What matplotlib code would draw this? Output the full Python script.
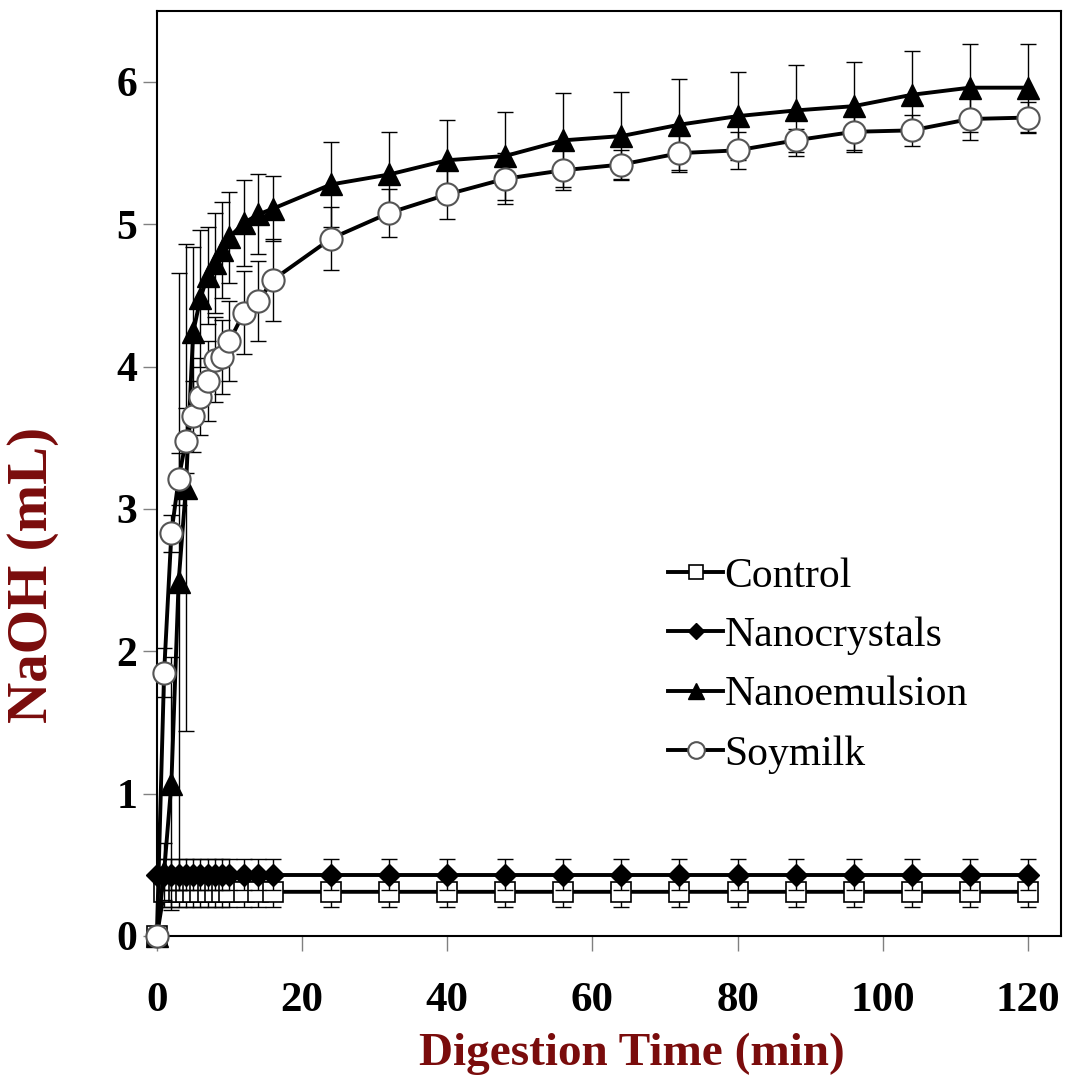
import matplotlib
matplotlib.use("Agg")
import matplotlib.pyplot as plt

plt.rcParams["font.family"] = ["Liberation Serif", "DejaVu Serif"]

# digestion time (min)
time = [0, 1, 2, 3, 4, 5, 6, 7, 8, 9, 10, 12, 14, 16,
        24, 32, 40, 48, 56, 64, 72, 80, 88, 96, 104, 112, 120]

control = [0.00, 0.31, 0.31, 0.31, 0.31, 0.31, 0.31, 0.31, 0.31, 0.31, 0.31, 0.31, 0.31, 0.31,
           0.31, 0.31, 0.31, 0.31, 0.31, 0.31, 0.31, 0.31, 0.31, 0.31, 0.31, 0.31, 0.31]
control_err = [0.00, 0.11, 0.11, 0.11, 0.11, 0.11, 0.11, 0.11, 0.11, 0.11, 0.11, 0.11, 0.11, 0.11,
               0.11, 0.11, 0.11, 0.11, 0.11, 0.11, 0.11, 0.11, 0.11, 0.11, 0.11, 0.11, 0.11]

nanocrystals = [0.43, 0.43, 0.43, 0.43, 0.43, 0.43, 0.43, 0.43, 0.43, 0.43, 0.43, 0.43, 0.43, 0.43,
                0.43, 0.43, 0.43, 0.43, 0.43, 0.43, 0.43, 0.43, 0.43, 0.43, 0.43, 0.43, 0.43]
nanocrystals_err = [0.11, 0.11, 0.11, 0.11, 0.11, 0.11, 0.11, 0.11, 0.11, 0.11, 0.11, 0.11, 0.11, 0.11,
                    0.11, 0.11, 0.11, 0.11, 0.11, 0.11, 0.11, 0.11, 0.11, 0.11, 0.11, 0.11, 0.11]

nanoemulsion = [0.00, 0.45, 1.07, 2.49, 3.15, 4.24, 4.48, 4.64, 4.73, 4.82, 4.91, 5.01, 5.07, 5.11,
                5.28, 5.35, 5.45, 5.48, 5.59, 5.62, 5.70, 5.76, 5.80, 5.83, 5.91, 5.96, 5.96]
nanoemulsion_err = [0.00, 0.20, 0.89, 2.17, 1.71, 0.60, 0.48, 0.34, 0.35, 0.34, 0.32, 0.30, 0.28, 0.23,
                    0.30, 0.30, 0.28, 0.31, 0.33, 0.31, 0.32, 0.31, 0.32, 0.31, 0.31, 0.31, 0.31]

soymilk = [0.00, 1.85, 2.83, 3.21, 3.48, 3.65, 3.79, 3.90, 4.05, 4.07, 4.18, 4.38, 4.46, 4.61,
           4.90, 5.08, 5.21, 5.32, 5.38, 5.42, 5.50, 5.52, 5.59, 5.65, 5.66, 5.74, 5.75]
soymilk_err = [0.00, 0.17, 0.13, 0.18, 0.23, 0.25, 0.27, 0.28, 0.30, 0.26, 0.28, 0.29, 0.28, 0.29,
               0.22, 0.17, 0.17, 0.18, 0.14, 0.10, 0.13, 0.13, 0.08, 0.14, 0.11, 0.15, 0.11]

label_color = "#7a0c0c"

fig = plt.figure(figsize=(10.67, 10.82), dpi=100)
ax = fig.add_axes([0.147, 0.135, 0.847, 0.855])

series = [
    ("Control", control, control_err,
     dict(marker="s", ms=14, mfc="white", mec="black", mew=1.2)),
    ("Nanocrystals", nanocrystals, nanocrystals_err,
     dict(marker="D", ms=11.5, mfc="black", mec="black", mew=1.0)),
    ("Nanoemulsion", nanoemulsion, nanoemulsion_err,
     dict(marker="^", ms=16, mfc="black", mec="black", mew=1.0)),
    ("Soymilk", soymilk, soymilk_err,
     dict(marker="o", ms=16, mfc="white", mec="#555555", mew=1.5)),
]

z = 2
for name, y, err, mk in series:
    ax.errorbar(time, y, yerr=err, fmt="none", ecolor="black", elinewidth=1.0,
                capsize=5.5, capthick=1.0, zorder=z)
    ax.plot(time, y, color="black", lw=2.8, label=name, zorder=z + 1,
            clip_on=False, **mk)
    z += 2

ax.set_xlim(0, 124.5)
ax.set_ylim(0, 6.5)
ax.set_xticks([0, 20, 40, 60, 80, 100, 120])
ax.set_yticks([0, 1, 2, 3, 4, 5, 6])

for s in ["left", "right", "top", "bottom"]:
    ax.spines[s].set_linewidth(1.5)
    ax.spines[s].set_color("black")

ax.tick_params(axis="y", direction="out", length=10, width=1, color="gray",
               labelsize=30, pad=4)
ax.tick_params(axis="x", direction="out", length=11, width=1, color="gray",
               labelsize=31, pad=22)
for lab in ax.get_xticklabels() + ax.get_yticklabels():
    lab.set_fontweight("bold")

ax.set_xlabel("Digestion Time (min)", fontsize=34, fontweight="bold",
              color=label_color)
ax.xaxis.set_label_coords(0.526, -0.105)
ax.set_ylabel("NaOH (mL)", fontsize=41, fontweight="bold",
              color=label_color)
ax.yaxis.set_label_coords(-0.108, 0.39)

ax.legend(loc="upper left", bbox_to_anchor=(0.543, 0.432), frameon=False,
          fontsize=30, markerscale=0.75, handlelength=1.3, handletextpad=0.05,
          labelspacing=0.5, borderpad=0)

fig.savefig("out.png", dpi=100)
